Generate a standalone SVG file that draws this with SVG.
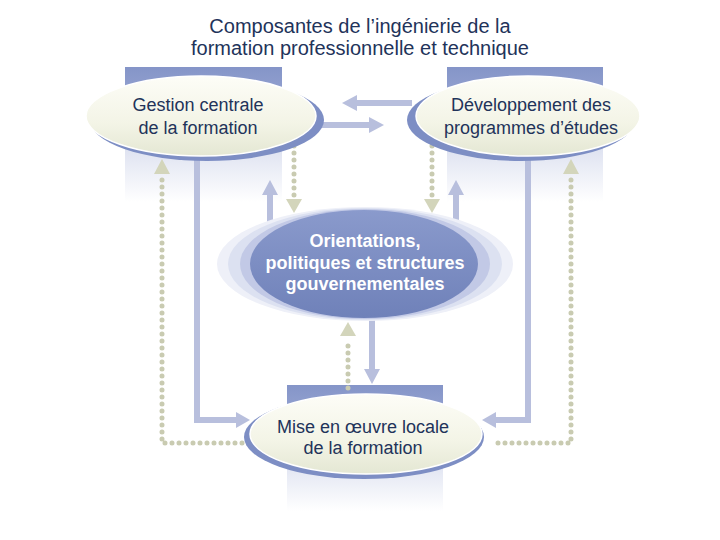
<svg xmlns="http://www.w3.org/2000/svg" width="720" height="540" viewBox="0 0 720 540">
<defs>
<linearGradient id="rg" x1="0" y1="0" x2="0" y2="1">
<stop offset="0" stop-color="#8595c8"/>
<stop offset="0.22" stop-color="#95a3d1"/>
<stop offset="0.55" stop-color="#dfe3f1"/>
<stop offset="0.9" stop-color="#ffffff"/>
</linearGradient>
<linearGradient id="cream" x1="0" y1="0" x2="0" y2="1">
<stop offset="0" stop-color="#fdfdf7"/>
<stop offset="0.6" stop-color="#f3f4e6"/>
<stop offset="1" stop-color="#e4e7d3"/>
</linearGradient>
<linearGradient id="blue" x1="0" y1="0" x2="0" y2="1">
<stop offset="0" stop-color="#8a9acc"/>
<stop offset="1" stop-color="#6f81b9"/>
</linearGradient>
<style>
.t{font-family:"Liberation Sans",Arial,sans-serif;fill:#22335a;text-anchor:middle}
.nt{font-size:18px}
.ct{font-family:"Liberation Sans",Arial,sans-serif;font-size:18px;font-weight:bold;fill:#ffffff;text-anchor:middle}
.s{fill:none;stroke:#b8bfdd;stroke-width:6}
.sa{fill:#b8bfdd}
.d{fill:none;stroke:#c9cbb1;stroke-width:5;stroke-dasharray:0 7;stroke-linecap:round}
.da{fill:#d3d5bb}
.sh{fill:#7d8ec4}
.el{fill:url(#cream);stroke:#ffffff;stroke-width:1.5}
</style>
</defs>
<rect width="720" height="540" fill="#ffffff"/>
<text class="t" x="360" y="33" font-size="20">Composantes de l’ingénierie de la</text>
<text class="t" x="360" y="55" font-size="20">formation professionnelle et technique</text>
<g id="backgrounds">
<rect x="125" y="67" width="157" height="150" fill="url(#rg)"/>
<rect x="447" y="67" width="156" height="150" fill="url(#rg)"/>
<rect x="287" y="385" width="156" height="140" fill="url(#rg)"/>
</g>
<g id="connectors">
<path class="s" d="M197,158 V420 H238"/>
<polygon class="sa" points="236,412 250,420 236,428"/>
<path class="s" d="M528,158 V420 H494"/>
<polygon class="sa" points="496,412 482,420 496,428"/>
<path class="s" d="M412,103 H356"/>
<polygon class="sa" points="357,95 342,103 357,111"/>
<path class="s" d="M316,125 H370"/>
<polygon class="sa" points="369,117 384,125 369,133"/>
<path class="s" d="M270,225 V194"/>
<polygon class="sa" points="262,195 270,180 278,195"/>
<path class="s" d="M456,225 V194"/>
<polygon class="sa" points="448,195 456,180 464,195"/>
<path class="s" d="M372,316 V370"/>
<polygon class="sa" points="364,369 372,384 380,369"/>
<path class="d" d="M162,180 V443 H250"/>
<polygon class="da" points="154,174 162,159 170,174"/>
<path class="d" d="M571,180 V443 H497"/>
<polygon class="da" points="563,174 571,159 579,174"/>
<path class="d" d="M294,146 V196"/>
<polygon class="da" points="286,199 294,213 302,199"/>
<path class="d" d="M432,146 V196"/>
<polygon class="da" points="424,199 432,213 440,199"/>
<path class="d" d="M348,388 V342"/>
<polygon class="da" points="340,336 348,322 356,336"/>
</g>
<g id="node-gestion">
<ellipse class="sh" cx="207" cy="120" rx="117" ry="41"/>
<ellipse class="el" cx="201" cy="116" rx="115" ry="40"/>
<text class="t nt" x="198" y="111">Gestion centrale</text>
<text class="t nt" x="198" y="134">de la formation</text>
</g>
<g id="node-developpement">
<ellipse class="sh" cx="521" cy="120" rx="114" ry="41"/>
<ellipse class="el" cx="528" cy="116" rx="112" ry="40"/>
<text class="t nt" x="531" y="111">Développement des</text>
<text class="t nt" x="531" y="134">programmes d’études</text>
</g>
<g id="node-orientations">
<ellipse cx="365" cy="264" rx="148" ry="57" fill="#eef0f8"/>
<ellipse cx="365" cy="264" rx="137" ry="56" fill="#dce1f1"/>
<ellipse cx="365" cy="264" rx="125" ry="55" fill="#c2c9e6"/>
<ellipse cx="364" cy="264" rx="114" ry="54" fill="url(#blue)"/>
<text class="ct" x="365" y="247">Orientations,</text>
<text class="ct" x="365" y="269">politiques et structures</text>
<text class="ct" x="365" y="290">gouvernementales</text>
</g>
<g id="node-mise">
<ellipse class="sh" cx="364" cy="437" rx="120" ry="42"/>
<ellipse class="el" cx="366" cy="434" rx="116" ry="40"/>
<text class="t nt" x="363" y="433">Mise en œuvre locale</text>
<text class="t nt" x="363" y="454">de la formation</text>
</g>
</svg>
